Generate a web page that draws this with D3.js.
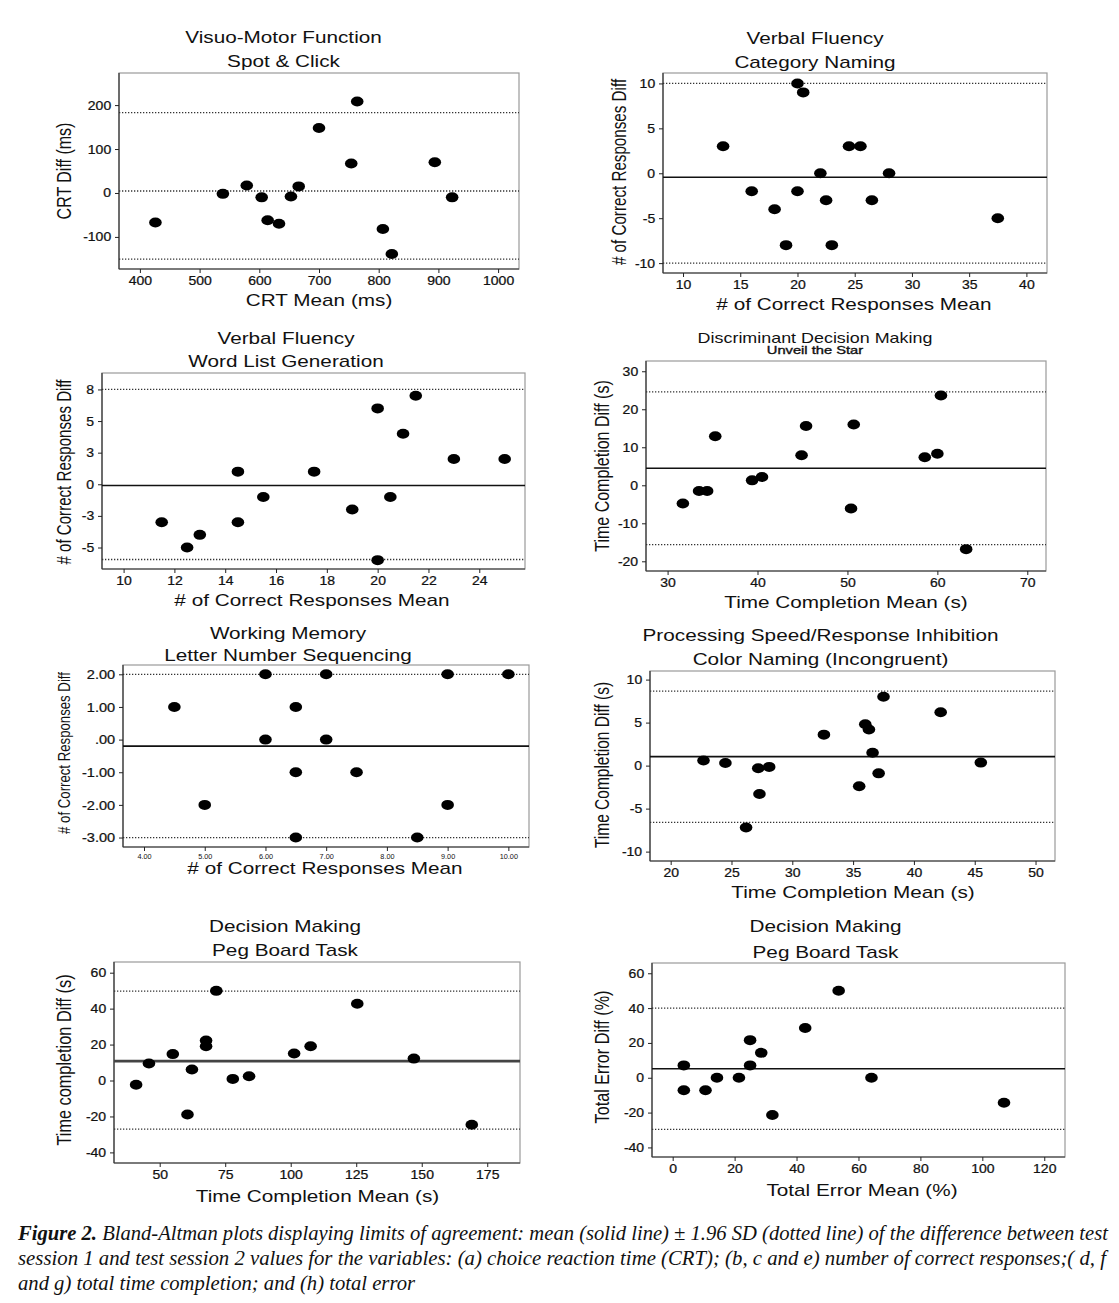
<!DOCTYPE html>
<html><head><meta charset="utf-8">
<script src="https://cdn.jsdelivr.net/npm/d3@7"></script>
<style>
body{margin:0;background:#fff}
svg{display:block}
text{font-family:"Liberation Sans",Arial,sans-serif;fill:#111}
</style>
</head><body>
<svg id="chart" width="1119" height="1303"></svg>
<script>
// ---------------- DATA ----------------
// (a) Visuo-Motor Function – Spot & Click
const crtMean = [426,539,579,604,614,633,653,666,700,754,764,807,822,894,923];
const crtDiff = [-67,-2,17,-10,-62,-70,-8,15,148,67,208,-82,-139,70,-10];
const crtLimits = [182.7, 4.5, -150.7];           // upper, mean, lower
const crtXTicks = [400,500,600,700,800,900,1000];
const crtYTicks = [-100,0,100,200];

// (b) Verbal Fluency – Category Naming
const catMean = [13.5,16,18,19,20,20,20.5,22,22.5,23,24.5,25.5,26.5,28,37.5];
const catDiff = [3,-2,-4,-8,10,-2,9,0,-3,-8,3,3,-3,0,-5];
const catLimits = [10.0, -0.45, -10.0];
const catXTicks = [10,15,20,25,30,35,40];
const catYTicks = [-10,-5,0,5,10];

// (c) Verbal Fluency – Word List Generation
const wordMean = [11.5,12.5,13,14.5,14.5,15.5,17.5,19,20,20,20.5,21,21.5,23,25];
const wordDiff = [-3,-5,-4,1,-3,-1,1,-2,6,-6,-1,4,7,2,2];
const wordLimits = [7.5, -0.1, -5.95];
const wordXTicks = [10,12,14,16,18,20,22,24];
const wordYTicks = [-5,-2.5,0,2.5,5,7.5];
const wordYLabels = ["-5","-3","0","3","5","8"];

// (d) Discriminant Decision Making – Unveil the Star
const starMean = [31.7,33.5,34.4,35.3,39.4,40.5,44.9,45.4,50.4,50.7,58.6,60.0,60.4,63.2];
const starDiff = [-4.8,-1.5,-1.5,12.9,1.3,2.2,7.9,15.6,-6.1,16.0,7.4,8.3,23.6,-16.8];
const starLimits = [24.6, 4.5, -15.6];
const starXTicks = [30,40,50,60,70];
const starYTicks = [-20,-10,0,10,20,30];

// (e) Working Memory – Letter Number Sequencing
const lnsMean = [4.5,5,6,6,6.5,6.5,6.5,7,7,7.5,8.5,9,9,10];
const lnsDiff = [1,-2,2,0,1,-1,-3,2,0,-1,-3,2,-2,2];
const lnsLimits = [2.0, -0.2, -3.0];
const lnsXTicks = [4,5,6,7,8,9,10];
const lnsXLabels = ["4.00","5.00","6.00","7.00","8.00","9.00","10.00"];
const lnsYTicks = [-3,-2,-1,0,1,2];
const lnsYLabels = ["-3.00","-2.00","-1.00",".00","1.00","2.00"];

// (f) Processing Speed/Response Inhibition – Color Naming (Incongruent)
const colorMean = [22.7,24.5,26.2,27.2,27.3,28.1,32.6,35.5,36.0,36.3,36.6,37.1,37.5,42.2,45.5];
const colorDiff = [0.6,0.3,-7.2,-0.3,-3.3,-0.15,3.6,-2.4,4.8,4.2,1.5,-0.9,8.0,6.2,0.35];
const colorLimits = [8.67, 1.05, -6.6];
const colorXTicks = [20,25,30,35,40,45,50];
const colorYTicks = [-10,-5,0,5,10];

// (g) Decision Making – Peg Board Task (time)
const pegTimeMean = [41,45.9,55,60.6,62.3,67.7,67.7,71.6,77.9,84.1,101.3,107.6,125.4,147,169.1];
const pegTimeDiff = [-2.4,9.5,14.7,-18.9,6.1,22.2,19.1,49.9,0.9,2.4,15.0,19.1,42.7,12.2,-24.6];
const pegTimeLimits = [49.7, 10.8, -27.0];
const pegTimeXTicks = [50,75,100,125,150,175];
const pegTimeYTicks = [-40,-20,0,20,40,60];

// (h) Decision Making – Peg Board Task (error)
const pegErrMean = [3.6,3.6,10.6,14.3,21.4,25,25,28.6,32.2,42.8,53.6,64.2,107];
const pegErrDiff = [7.1,-7.2,-7.2,0,0,21.6,7.1,14.3,-21.4,28.6,50,0,-14.3];
const pegErrLimits = [40.0, 5.15, -29.6];
const pegErrXTicks = [0,20,40,60,80,100,120];
const pegErrYTicks = [-40,-20,0,20,40,60];

const captionLines = [
  ["Figure 2.", " Bland-Altman plots displaying limits of agreement: mean (solid line) ± 1.96 SD (dotted line) of the difference between test"],
  ["", "session 1 and test session 2 values for the variables: (a) choice reaction time (CRT); (b, c and e) number of correct responses;( d, f"],
  ["", "and g) total time completion; and (h) total error"]
];

// ---------------- LAYOUT ----------------
const SX = 1.28;   // horizontal stretch of the original figure text
const TSX = 1.12;
const panels = [
  {mean:crtMean, diff:crtDiff, lim:crtLimits, meanDotted:true, xT:crtXTicks, yT:crtYTicks,
   title:["Visuo-Motor Function","Spot & Click"], xTitle:"CRT Mean (ms)", yTitle:"CRT Diff (ms)",
   box:[119,73,519,269], xd:[365,1035], yd:[-173,273], tx:283.5, ty:[43,67], xtx:319, xty:306, ytx:71, yty:171, yts:16},
  {mean:catMean, diff:catDiff, lim:catLimits, xT:catXTicks, yT:catYTicks,
   title:["Verbal Fluency","Category Naming"], xTitle:"# of Correct Responses Mean", yTitle:"# of Correct Responses Diff",
   box:[663,73,1047,273], xd:[8.25,41.8], yd:[-11.1,11.16], tx:815, ty:[44,68], xtx:854, xty:310, ytx:626, yty:172, yts:15.2},
  {mean:wordMean, diff:wordDiff, lim:wordLimits, xT:wordXTicks, yT:wordYTicks, yL:wordYLabels,
   title:["Verbal Fluency","Word List Generation"], xTitle:"# of Correct Responses Mean", yTitle:"# of Correct Responses Diff",
   box:[102,373,525,569], xd:[9.15,25.8], yd:[-6.7,8.8], tx:286, ty:[344,367], xtx:312, xty:606, ytx:71, yty:472, yts:15.1},
  {mean:starMean, diff:starDiff, lim:starLimits, xT:starXTicks, yT:starYTicks,
   title:["Discriminant Decision Making","Unveil the Star"], titleSizes:[14,11.5], titleStroke:[0,0.35],
   xTitle:"Time Completion Mean (s)", yTitle:"Time Completion Diff (s)",
   box:[646,361,1046,571], xd:[27.6,72.08], yd:[-22.55,32.7], tx:815, ty:[343,354], xtx:846, xty:608, ytx:609, yty:466, yts:16},
  {mean:lnsMean, diff:lnsDiff, lim:lnsLimits, xT:lnsXTicks, xL:lnsXLabels, yT:lnsYTicks, yL:lnsYLabels, xTickSize:6.5, yTickSize:13,
   title:["Working Memory","Letter Number Sequencing"], xTitle:"# of Correct Responses Mean", yTitle:"# of Correct Responses Diff",
   box:[123,665,529,847], xd:[3.654,10.34], yd:[-3.29,2.285], tx:288, ty:[639,661], xtx:325, xty:874, ytx:70, yty:753, yts:13.2},
  {mean:colorMean, diff:colorDiff, lim:colorLimits, xT:colorXTicks, yT:colorYTicks,
   title:["Processing Speed/Response Inhibition","Color Naming (Incongruent)"], xTitle:"Time Completion Mean (s)", yTitle:"Time Completion Diff (s)",
   box:[650,671,1055,861], xd:[18.3,51.6], yd:[-11.09,11.0], tx:820.5, ty:[641,665], xtx:853, xty:898, ytx:609, yty:765, yts:15.5},
  {mean:pegTimeMean, diff:pegTimeDiff, lim:pegTimeLimits, thickMean:true, xT:pegTimeXTicks, yT:pegTimeYTicks,
   title:["Decision Making","Peg Board Task"], xTitle:"Time Completion Mean (s)", yTitle:"Time completion Diff (s)",
   box:[114,962,520,1163], xd:[32.56,187.5], yd:[-45.9,65.95], tx:285, ty:[932,956], xtx:317.5, xty:1202, ytx:71, yty:1060, yts:16.3},
  {mean:pegErrMean, diff:pegErrDiff, lim:pegErrLimits, xT:pegErrXTicks, yT:pegErrYTicks,
   title:["Decision Making","Peg Board Task"], xTitle:"Total Error Mean (%)", yTitle:"Total Error Diff (%)",
   box:[652,963,1065,1157], xd:[-6.68,126.7], yd:[-45.5,65.9], tx:825.5, ty:[932,958], xtx:862, xty:1196, ytx:609, yty:1057, yts:16.2}
];

const svg = d3.select("#chart");
svg.append("rect").attr("width",1119).attr("height",1303).attr("fill","#fff");

function label(g, x, y, text, size, opts={}) {
  const tr = `translate(${x},${y}) scale(${opts.sx ?? SX},1)` + (opts.rotate ? " rotate(-90)" : "");
  const t = g.append("text")
    .attr("transform", tr)
    .attr("text-anchor", opts.anchor || "middle")
    .style("font-size", size + "px")
    .text(text);
  if (opts.stroke) t.attr("stroke","#111").attr("stroke-width",opts.stroke);
  return t;
}

panels.forEach(p => {
  const [L,T,R,B] = p.box;
  const g = svg.append("g");
  const x = d3.scaleLinear().domain(p.xd).range([L,R]);
  const y = d3.scaleLinear().domain(p.yd).range([B,T]);

  // frame
  g.append("rect").attr("x",L).attr("y",T).attr("width",R-L).attr("height",B-T)
    .attr("fill","none").attr("stroke","#9a9a9a").attr("stroke-width",1.2);
  g.append("line").attr("x1",L).attr("x2",L).attr("y1",T).attr("y2",B).attr("stroke","#333").attr("stroke-width",1.2);
  g.append("line").attr("x1",L).attr("x2",R).attr("y1",B).attr("y2",B).attr("stroke","#333").attr("stroke-width",1.2);

  // limits of agreement
  p.lim.forEach((v,i) => {
    const isMean = i === 1;
    const ln = g.append("line").attr("x1",L).attr("x2",R).attr("y1",y(v)).attr("y2",y(v));
    if (isMean && !p.meanDotted) {
      ln.attr("stroke", p.thickMean ? "#444" : "#111").attr("stroke-width", p.thickMean ? 2.6 : 1.6);
    } else {
      ln.attr("stroke","#333").attr("stroke-width",1.3).attr("stroke-dasharray","1.3,1.7");
    }
  });

  // points
  g.append("g").selectAll("ellipse").data(p.mean.map((m,i)=>[m,p.diff[i]])).join("ellipse")
    .attr("cx", d=>x(d[0])).attr("cy", d=>y(d[1])).attr("rx",6.3).attr("ry",5).attr("fill","#000");

  // axes
  const yAxis = d3.axisLeft(y).tickValues(p.yT).tickSize(4).tickPadding(3)
    .tickFormat((d,i)=> p.yL ? p.yL[i] : String(d));
  const ya = g.append("g").attr("transform",`translate(${L},0)`).call(yAxis);
  ya.select(".domain").remove();
  ya.selectAll("line").attr("stroke","#222");
  ya.selectAll("text").attr("transform",`scale(${TSX},1)`).style("font-size",(p.yTickSize||12.5)+"px")
    .style("font-family","'Liberation Sans',Arial,sans-serif").attr("fill","#111")
    .attr("stroke","#111").attr("stroke-width",0.25);

  const xAxis = d3.axisBottom(x).tickValues(p.xT).tickSize(4).tickPadding(3)
    .tickFormat((d,i)=> p.xL ? p.xL[i] : String(d));
  const xa = g.append("g").attr("transform",`translate(0,${B})`).call(xAxis);
  xa.select(".domain").remove();
  xa.selectAll("line").attr("stroke","#222");
  xa.selectAll("text").attr("transform",`scale(${TSX},1)`).style("font-size",(p.xTickSize||12.5)+"px")
    .style("font-family","'Liberation Sans',Arial,sans-serif").attr("fill", p.xTickSize ? "#555" : "#111")
    .attr("stroke", p.xTickSize ? "none" : "#111").attr("stroke-width",0.25);

  // titles
  const ts = p.titleSizes || [16.2,16.2];
  const tst = p.titleStroke || [0,0];
  label(g, p.tx, p.ty[0], p.title[0], ts[0], {stroke:tst[0]});
  label(g, p.tx, p.ty[1], p.title[1], ts[1], {stroke:tst[1]});
  label(g, p.xtx, p.xty, p.xTitle, 16.2);
  label(g, p.ytx, p.yty, p.yTitle, p.yts, {rotate:true});
});

// caption
const cap = svg.append("g");
const capWidths = [1090, 1088, 397];
captionLines.forEach((ln,i) => {
  const t = cap.append("text").attr("x",18).attr("y",1240 + i*25)
    .style("font-family","'Liberation Serif','Times New Roman',serif")
    .style("font-style","italic").style("font-size","20px")
    .attr("textLength", capWidths[i]).attr("lengthAdjust","spacingAndGlyphs");
  if (ln[0]) t.append("tspan").style("font-weight","bold").text(ln[0]);
  t.append("tspan").text(ln[1]);
});
</script>
</body></html>
